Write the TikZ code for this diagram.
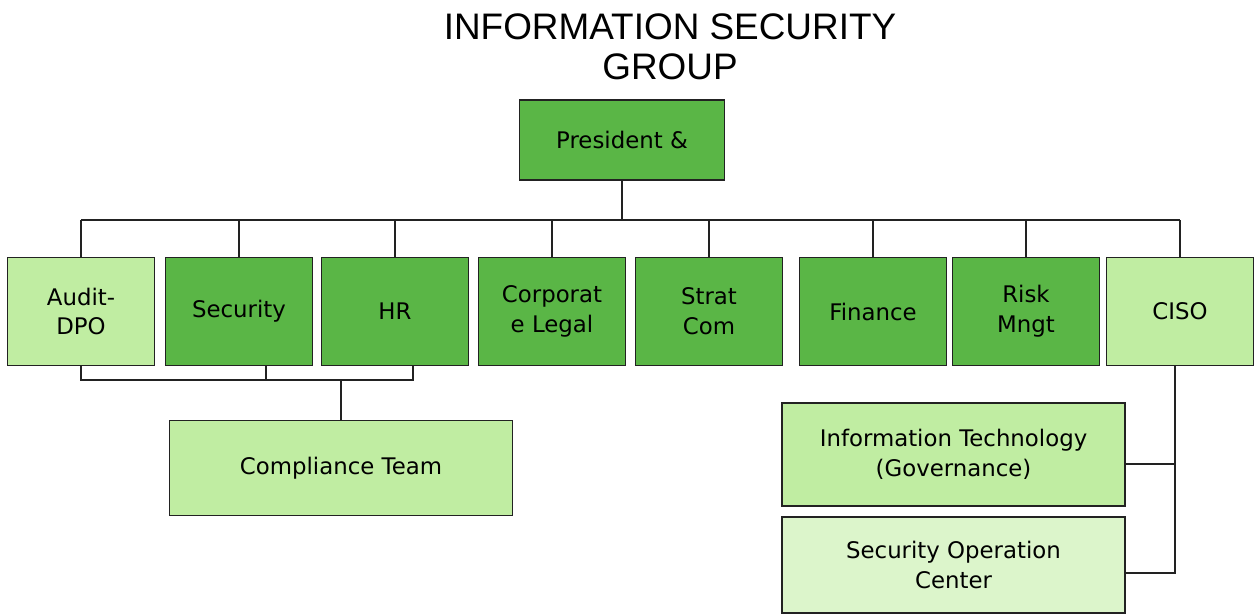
\documentclass[tikz,border=0pt]{standalone}
\usepackage{fontspec}
\usepackage{xcolor}
\usepackage{tikz}
\setmainfont{DejaVu Sans}
\newfontfamily\titlefont{Liberation Sans}
\definecolor{OrgDark}{HTML}{5AB646}
\definecolor{OrgLight}{HTML}{C0EDA2}
\definecolor{OrgPale}{HTML}{DCF5CB}
\definecolor{OrgLine}{HTML}{222222}

\begin{document}
\begin{tikzpicture}[x=1cm,y=1cm,
  unit/.style={draw=OrgLine,line width=1.1pt,inner sep=0pt,align=center,
    font=\fontsize{13}{17}\selectfont,minimum width=2.94cm,minimum height=2.16cm},
  dark/.style={unit,fill=OrgDark},
  light/.style={unit,fill=OrgLight},
  link/.style={OrgLine,line width=1.1pt}]
\path[use as bounding box] (0,0) rectangle (25.12,12.28);
\fill[white] (0,0) rectangle (25.12,12.28);
\node[font=\titlefont\fontsize{21}{23}\selectfont,align=center] (title) at (13.40,11.34) {INFORMATION SECURITY\\GROUP};
\node[dark,minimum width=4.10cm,minimum height=1.60cm] (pres) at (12.44,9.48) {President \&};
\node[light] (audit) at (1.62,6.05) {Audit-\\DPO};
\node[dark] (security) at (4.78,6.05) {Security};
\node[dark] (hr) at (7.90,6.05) {HR};
\node[dark] (legal) at (11.04,6.05) {Corporat\\e Legal};
\node[dark] (strat) at (14.18,6.05) {Strat\\Com};
\node[dark] (finance) at (17.46,6.05) {Finance};
\node[dark] (risk) at (20.52,6.05) {Risk\\Mngt};
\node[light] (ciso) at (23.60,6.05) {CISO};
\node[light,minimum width=6.86cm,minimum height=1.90cm] (comply) at (6.82,2.92) {Compliance Team};
\node[light,minimum width=6.86cm,minimum height=2.06cm] (itgov) at (19.07,3.19) {Information Technology\\(Governance)};
\node[light,fill=OrgPale,minimum width=6.86cm,minimum height=1.92cm] (soc) at (19.07,0.98) {Security Operation\\Center};
% bus under the president
\coordinate (bus) at (12.44,7.88);
\draw[link] (pres.south) -- (pres.south |- bus);
\draw[link] (audit.north |- bus) -- (ciso.north |- bus);
\foreach \n in {audit,security,hr,legal,strat,finance,risk,ciso}
  \draw[link] (\n.north) -- (\n.north |- bus);
% compliance team feed
\coordinate (cjoin) at (6.82,4.68);
\coordinate (secfoot) at ([xshift=.54cm]security.south);
\coordinate (hrfoot) at ([xshift=.36cm]hr.south);
\draw[link] (audit.south) |- (hrfoot |- cjoin) -- (hrfoot);
\draw[link] (secfoot) -- (secfoot |- cjoin);
\draw[link] (cjoin) -- (comply.north);
% ciso branch
\coordinate (cisofoot) at ([xshift=-.10cm]ciso.south);
\draw[link] (cisofoot) |- ([yshift=-.16cm]soc.east);
\draw[link] ([yshift=-.19cm]itgov.east) -| (cisofoot);
\end{tikzpicture}
\end{document}
